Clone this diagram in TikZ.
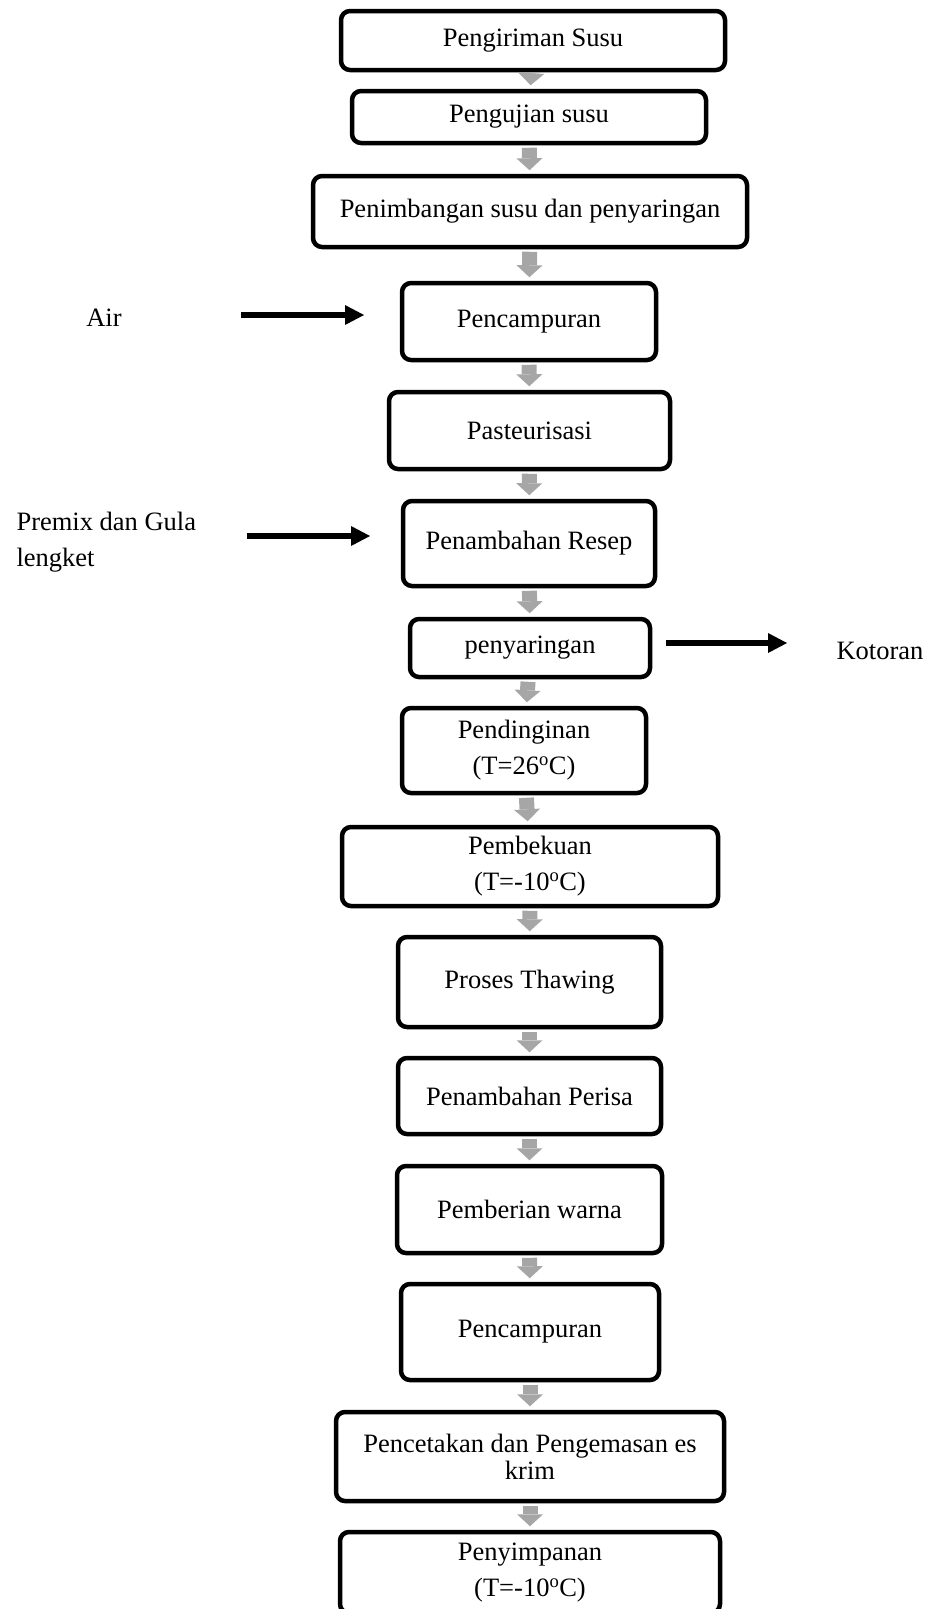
\documentclass[tikz,border=0pt]{standalone}
\usepackage{fontspec}
\setmainfont{Liberation Serif}
\usepackage{tikz}
\usetikzlibrary{arrows.meta}
\definecolor{flowgray}{HTML}{A6A6A6}

\begin{document}
\begin{tikzpicture}[x=1pt,y=-1pt,
    stage/.style={draw,line width=4.5pt,rounded corners=9pt,align=center,inner sep=0pt},
    flowarr/.style={flowgray,line width=15pt,-{Triangle[width=26pt,length=12pt,line width=0pt]},
      shorten <=2.5pt,shorten >=3.5pt},
    sidearr/.style={line width=6.5pt,-{Triangle[width=20pt,length=19pt,line width=0pt]}},
    font=\fontsize{26.5}{36}\selectfont]
  \useasboundingbox (0,0) rectangle (925,1609);
  % main process column
  \node[stage,minimum width=384pt,minimum height=59pt] (kirim) at (533,40.5) {Pengiriman Susu};
  \node[stage,minimum width=354pt,minimum height=52pt] (uji) at (529,117) {Pengujian susu};
  \node[stage,minimum width=434pt,minimum height=71pt] (timbang) at (530,211.5) {Penimbangan susu dan penyaringan};
  \node[stage,minimum width=254pt,minimum height=77pt] (campurA) at (529,321.5) {Pencampuran};
  \node[stage,minimum width=281pt,minimum height=77pt] (pasteur) at (529.5,430.5) {Pasteurisasi};
  \node[stage,minimum width=252pt,minimum height=85pt] (resep) at (529,543.5) {Penambahan Resep};
  \node[stage,minimum width=240pt,minimum height=58pt] (saring) at (530,648) {penyaringan};
  \node[stage,minimum width=244pt,minimum height=85pt] (dingin) at (524,750.5) {Pendinginan\\(T=26\textsuperscript{o}C)};
  \node[stage,minimum width=376pt,minimum height=79pt] (beku) at (530,866.5) {Pembekuan\\(T=-10\textsuperscript{o}C)};
  \node[stage,minimum width=263pt,minimum height=90pt] (thaw) at (529.5,982) {Proses Thawing};
  \node[stage,minimum width=263pt,minimum height=76pt] (perisa) at (529.5,1096) {Penambahan Perisa};
  \node[stage,minimum width=265pt,minimum height=87pt] (warna) at (529.5,1209.5) {Pemberian warna};
  \node[stage,minimum width=258pt,minimum height=96pt] (campurB) at (530,1332) {Pencampuran};
  \node[stage,minimum width=388pt,minimum height=89pt,font=\fontsize{26.5}{27}\selectfont] (cetak) at (530,1456.5) {Pencetakan dan Pengemasan es\\krim};
  \node[stage,minimum width=380pt,minimum height=81pt] (simpan) at (530,1572.5) {Penyimpanan\\(T=-10\textsuperscript{o}C)};

  \foreach \a/\b in {kirim/uji,uji/timbang,timbang/campurA,campurA/pasteur,pasteur/resep,
      resep/saring,saring/dingin,dingin/beku,beku/thaw,thaw/perisa,perisa/warna,
      warna/campurB,campurB/cetak,cetak/simpan}
    \draw[flowarr] (\a) -- (\b);

  % inputs and outputs
  \node (air) at (104,318) {Air};
  \coordinate (airA) at (241,315);
  \coordinate (airB) at (364,315);
  \draw[sidearr] (airA) -- (airB);

  \node[align=left,anchor=west] (premix) at (13,542) {Premix dan Gula\\lengket};
  \coordinate (premixA) at (247,536);
  \coordinate (premixB) at (370,536);
  \draw[sidearr] (premixA) -- (premixB);

  \node[anchor=west] (kotoran) at (833,651) {Kotoran};
  \coordinate (kotA) at (666,643);
  \coordinate (kotB) at (787,643);
  \draw[sidearr] (kotA) -- (kotB);
\end{tikzpicture}
\end{document}
